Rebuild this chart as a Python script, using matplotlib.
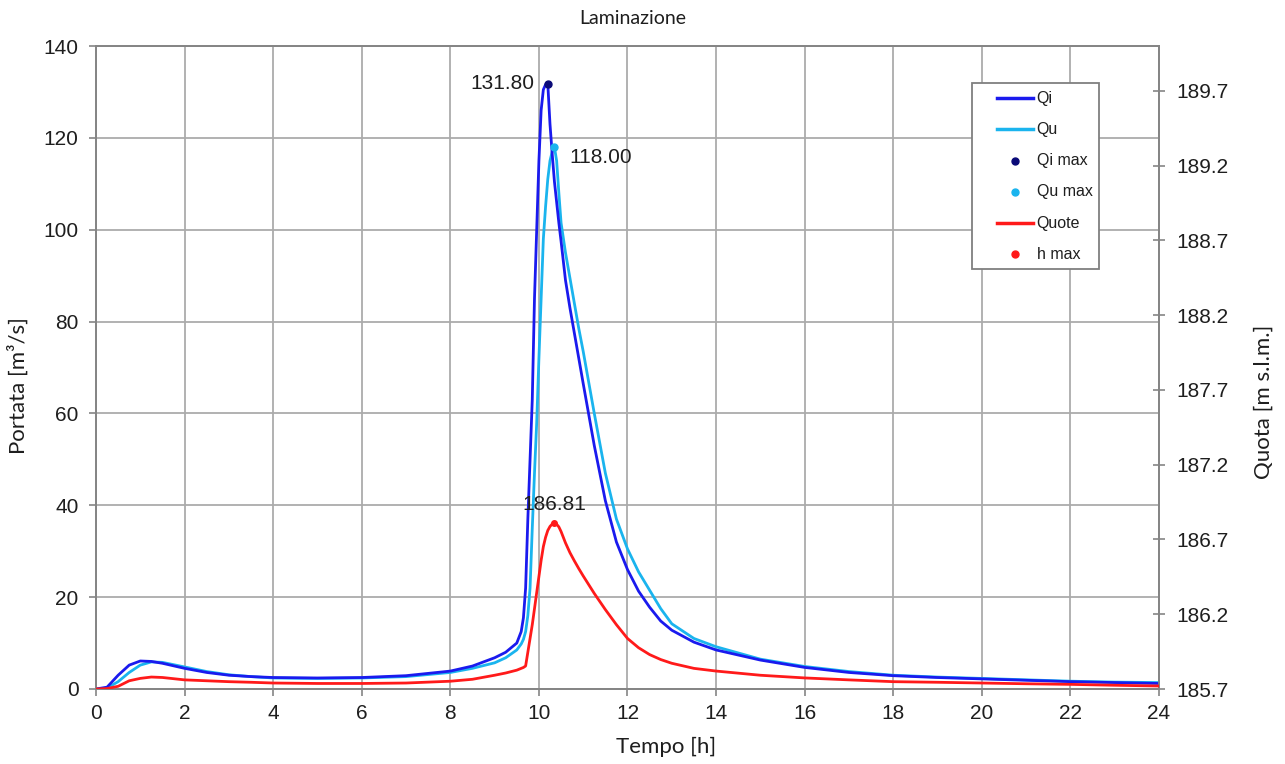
import matplotlib
matplotlib.use("Agg")
import matplotlib.pyplot as plt
from matplotlib.lines import Line2D
from matplotlib.patches import Rectangle
import numpy as np

# ---- data -------------------------------------------------------------
time_h = [0, 0.25, 0.5, 0.75, 1.0, 1.25, 1.5, 2.0, 2.5, 3.0, 3.5, 4.0, 5.0, 6.0,
          7.0, 8.0, 8.5, 9.0, 9.25, 9.5, 9.6, 9.65, 9.7, 9.75, 9.8, 9.85, 9.9,
          9.95, 10.0, 10.05, 10.1, 10.15, 10.2, 10.25, 10.3, 10.35, 10.4, 10.45,
          10.5, 10.6, 10.7, 10.8, 10.9, 11.0, 11.25, 11.5, 11.75, 12.0, 12.25,
          12.5, 12.75, 13.0, 13.5, 14.0, 15.0, 16.0, 17.0, 18.0, 19.0, 20.0,
          21.0, 22.0, 23.0, 24.0]

qi = [0, 0.4, 3.0, 5.2, 6.1, 6.0, 5.6, 4.5, 3.6, 3.0, 2.7, 2.5, 2.4, 2.5,
      2.9, 3.9, 5.0, 6.8, 8.0, 10.0, 12.5, 15.5, 22, 37, 50, 63, 85,
      100, 115, 126, 130.5, 131.6, 131.8, 123, 116.5, 110.5, 106, 101.5,
      97.5, 89, 83, 77.5, 72, 66.5, 53, 41, 32, 26, 21.3,
      17.8, 14.8, 12.8, 10.2, 8.5, 6.3, 4.7, 3.6, 2.9, 2.5, 2.2,
      1.9, 1.6, 1.4, 1.2]

qu = [0, 0.2, 1.6, 3.6, 5.2, 5.9, 5.8, 4.8, 3.8, 3.1, 2.7, 2.4, 2.3, 2.4,
      2.7, 3.6, 4.5, 5.7, 6.8, 8.5, 9.8, 10.8, 12.5, 16, 22, 35, 47,
      58, 72, 85, 98, 105, 111, 115, 117, 118, 115, 108,
      101.5, 95, 89.5, 84, 78.5, 73.5, 60, 47, 37, 30.5, 25.5,
      21.5, 17.5, 14.2, 11, 9.2, 6.5, 4.9, 3.8, 3.0, 2.6, 2.3,
      2.0, 1.7, 1.5, 1.4]

quote = [185.700, 185.703, 185.718, 185.755, 185.771, 185.780, 185.777, 185.761,
         185.755, 185.749, 185.745, 185.740, 185.737, 185.737, 185.740, 185.752,
         185.765, 185.792, 185.807, 185.826, 185.838, 185.844, 185.854, 185.946,
         186.038, 186.130, 186.237, 186.345, 186.452, 186.560, 186.652, 186.714,
         186.760, 186.787, 186.803, 186.810, 186.802, 186.784, 186.753, 186.677,
         186.612, 186.557, 186.505, 186.456, 186.339, 186.231, 186.130, 186.038,
         185.976, 185.930, 185.897, 185.872, 185.838, 185.820, 185.792, 185.774,
         185.761, 185.749, 185.745, 185.740, 185.735, 185.731, 185.725, 185.720]

x_ticks = list(range(0, 25, 2))
y_ticks = list(range(0, 141, 20))
y2_ticks = [185.7, 186.2, 186.7, 187.2, 187.7, 188.2, 188.7, 189.2, 189.7]
legend_labels = ["Qi", "Qu", "Qi max", "Qu max", "Quote", "h max"]

# ---- styling ----------------------------------------------------------
C_QI = "#1A1AEE"
C_QU = "#1AB4EE"
C_QI_MAX = "#0A0A78"
C_QU_MAX = "#1AB4EE"
C_RED = "#FF1A1A"
GRID = "#ABABAB"
SPINE = "#858585"
TXT = "#1E1E1E"
LAB_FONT = ["Lato", "DejaVu Sans"]

plt.rcParams["font.family"] = ["Liberation Sans", "DejaVu Sans"]

W, H = 1285, 764
fig = plt.figure(figsize=(W / 100, H / 100), dpi=100)
L, R, B, T = 96, 1159, 689, 46
ax = fig.add_axes([L / W, 1 - B / H, (R - L) / W, (B - T) / H])
ax2 = ax.twinx()

t = np.array(time_h)
qi_a = np.array(qi)
qu_a = np.array(qu)
qt_a = np.array(quote)

ax.plot(t, qi_a, color=C_QI, lw=2.0, zorder=4, solid_joinstyle="round")
ax.plot(t, qu_a, color=C_QU, lw=2.0, zorder=3, solid_joinstyle="round")
ax2.plot(t, qt_a, color=C_RED, lw=2.0, zorder=3, solid_joinstyle="round")

i_qi = int(np.argmax(qi_a))
i_qu = int(np.argmax(qu_a))
i_h = int(np.argmax(qt_a))
ax.plot(t[i_qi], qi_a[i_qi], "o", color=C_QI_MAX, ms=5, zorder=6)
ax.plot(t[i_qu], qu_a[i_qu], "o", color=C_QU_MAX, ms=5, zorder=6)
ax2.plot(t[i_h], qt_a[i_h], "o", color=C_RED, ms=4, zorder=6)

ax.annotate(f"{qi_a[i_qi]:.2f}", (t[i_qi], qi_a[i_qi]), xytext=(-10, 0),
            textcoords="offset points", ha="right", va="center",
            fontsize=15, color=TXT, zorder=7)
ax.annotate(f"{qu_a[i_qu]:.2f}", (t[i_qu], qu_a[i_qu]), xytext=(10.5, -7.5),
            textcoords="offset points", ha="left", va="center",
            fontsize=15, color=TXT, zorder=7)
ax2.annotate(f"{qt_a[i_h]:.2f}", (t[i_h], qt_a[i_h]), xytext=(0, 13),
             textcoords="offset points", ha="center", va="center",
             fontsize=15, color=TXT, zorder=7)

# axes ranges & ticks
ax.set_xlim(0, 24)
ax.set_ylim(0, 140)
ax2.set_ylim(185.7, 190.0)
ax.set_xticks(x_ticks)
ax.set_yticks(y_ticks)
ax2.set_yticks(y2_ticks)
ax2.set_yticklabels([f"{v:.1f}" for v in y2_ticks])

ax.grid(True, color=GRID, lw=1.3)
ax.set_axisbelow(True)
for a in (ax, ax2):
    for s in a.spines.values():
        s.set_color(SPINE)
        s.set_linewidth(1.3)

ax.tick_params(axis="y", colors=SPINE, labelcolor=TXT, labelsize=15,
               length=5, width=1.2, direction="out", pad=7.5)
ax.tick_params(axis="x", colors=SPINE, labelcolor=TXT, labelsize=15,
               length=5, width=1.2, direction="out", pad=6)
ax2.tick_params(axis="y", colors=SPINE, labelcolor=TXT, labelsize=15,
                length=9, width=1.2, direction="inout", pad=8)

# labels
fig.text(633 / W, 1 - 18 / H, "Laminazione", ha="center", va="center",
         fontsize=14, family=LAB_FONT, color=TXT)
fig.text(666 / W, 1 - 747 / H, "Tempo [h]", ha="center", va="center",
         fontsize=16, family=LAB_FONT, color=TXT)
fig.text(18 / W, 1 - 386 / H, "Portata [m³/s]", ha="center", va="center",
         rotation=90, fontsize=16, family=LAB_FONT, color=TXT)
fig.text(1264 / W, 1 - 402 / H, "Quota [m s.l.m.]", ha="center", va="center",
         rotation=90, fontsize=16, family=LAB_FONT, color=TXT)

# legend (drawn manually in figure pixel coordinates)
def fx(px):
    return px / W

def fy(py):
    return 1 - py / H

fig.add_artist(Rectangle((fx(972), fy(269)), (1099 - 972) / W, (269 - 83) / H,
                         transform=fig.transFigure, facecolor="white",
                         edgecolor="#7F7F7F", lw=1.3, zorder=10))
styles = [("line", C_QI), ("line", C_QU), ("dot", C_QI_MAX),
          ("dot", C_QU_MAX), ("line", C_RED), ("dot", C_RED)]
row_y0, row_dy = 98, 31.3
for k, (lab, (kind, col)) in enumerate(zip(legend_labels, styles)):
    yy = fy(row_y0 + k * row_dy)
    if kind == "line":
        fig.add_artist(Line2D([fx(997), fx(1033)], [yy, yy], color=col, lw=2.5,
                              transform=fig.transFigure, zorder=11))
    else:
        fig.add_artist(Line2D([fx(1015)], [yy], color=col, marker="o", ms=5,
                              lw=0, transform=fig.transFigure, zorder=11))
    fig.text(fx(1036) if kind == "line" else fx(1037), yy, lab, ha="left",
             va="center", fontsize=11.5, color=TXT, zorder=12)

fig.savefig("out.png", dpi=100)
